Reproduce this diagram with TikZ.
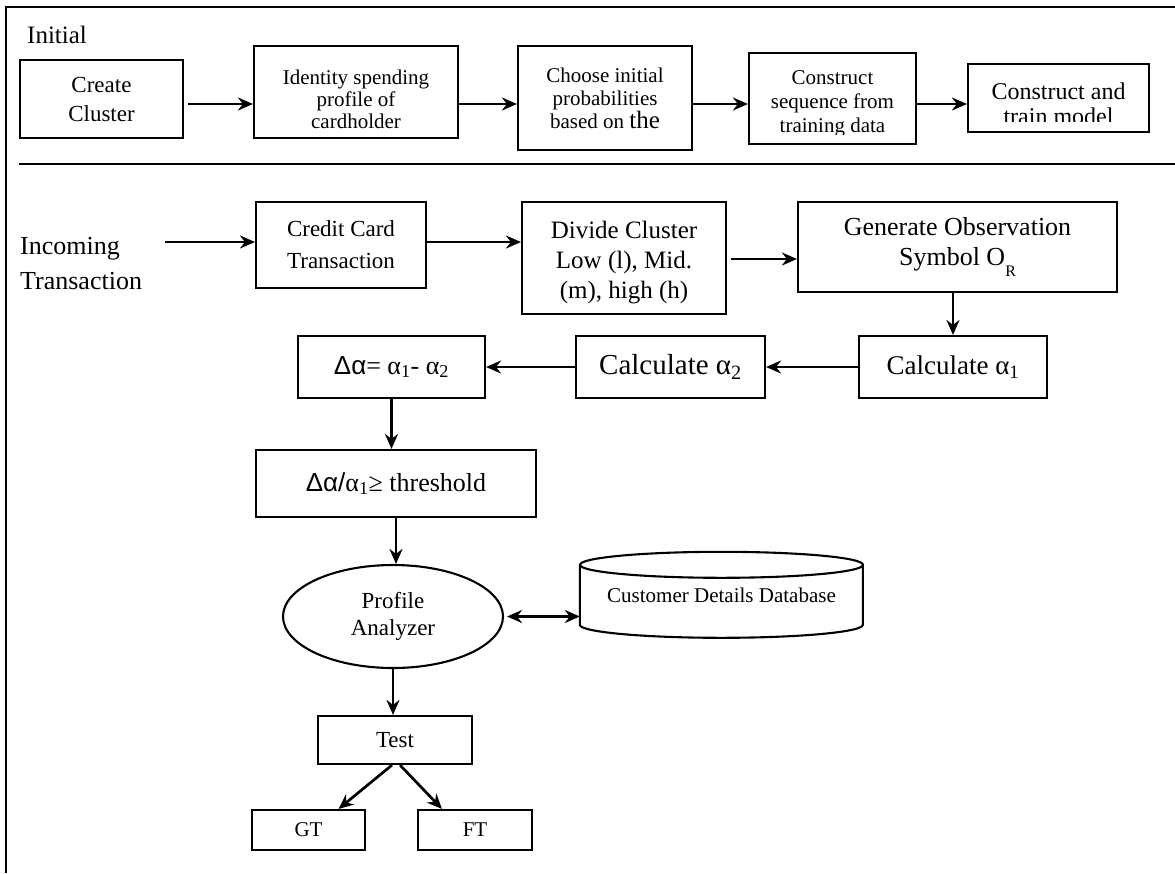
\documentclass[tikz,border=0pt]{standalone}
\usepackage{fontspec}
\setmainfont{Liberation Serif}
\newfontfamily\sansf{Liberation Sans}
\usetikzlibrary{arrows.meta,shapes.geometric,calc}
\newcommand\fsz[2]{\fontsize{#1}{#2}\selectfont}
\begin{document}
\begin{tikzpicture}[x=1pt,y=-1pt,
  box/.style={draw, line width=2.1pt, inner sep=0pt, align=center},
  arr/.style={line width=2.7pt, -{Stealth[length=15pt,width=13pt,inset=5pt]}},
  darr/.style={line width=2.7pt, {Stealth[length=15pt,width=13pt,inset=5pt]}-{Stealth[length=15pt,width=13pt,inset=5pt]}},
  frame/.style={line width=2.4pt},
  txt/.style={inner sep=0pt, align=center}]
\useasboundingbox (0,0) rectangle (1175,873);
\fill[white] (0,0) rectangle (1175,873);

% frame
\coordinate (ftl) at (6,7);
\coordinate (ftr) at (1175,7);
\coordinate (fbl) at (6,873);
\coordinate (dl) at (19,164);
\coordinate (dr) at (1175,164);
\draw[frame] (ftr) -- (ftl) -- (fbl);
\draw[frame] (dl) -- (dr);

% ---------- Initial row ----------
\node[txt, anchor=base west, font=\fsz{25}{29}] (initial) at (27,43) {Initial};

\node[box, minimum width=163, minimum height=78, font=\fsz{23}{29}] (create) at (101.5,99) {Create\\Cluster};
\node[box, minimum width=204, minimum height=92] (ident) at (356,92) {};
\node[txt, font=\fsz{21}{22}] (identtxt) at (356,99) {Identity spending\\profile of\\cardholder};
\node[box, minimum width=174, minimum height=104, font=\fsz{21}{23}] (choose) at (605,98) {Choose initial\\probabilities\\based on {\fsz{25}{23}the}};
\node[box, minimum width=167, minimum height=91] (seq) at (832.5,98.5) {};
\node[box, minimum width=181, minimum height=68] (train) at (1058.5,98) {};
\begin{scope}
  \clip (seq.north west) rectangle ([yshift=11pt]seq.south east);
  \node[txt, font=\fsz{21}{24}] (seqtxt) at (832.5,104) {Construct\\sequence from\\training data};
\end{scope}
\begin{scope}
  \clip (train.north west) rectangle ([yshift=12pt]train.south east);
  \node[txt, font=\fsz{24}{25}] (traintxt) at (1058.5,104) {Construct and\\train model};
\end{scope}

\coordinate (r1) at (0,104);
\draw[arr] ([xshift=4pt]create.east |- r1) -- (ident.west |- r1);
\draw[arr] (ident.east |- r1) -- (choose.west |- r1);
\draw[arr] (choose.east |- r1) -- (seq.west |- r1);
\draw[arr] (seq.east |- r1) -- (train.west |- r1);

% ---------- Transaction part ----------
\node[txt, align=left, anchor=west, font=\fsz{26}{35}] (inc) at (20,264) {Incoming\\Transaction};
\node[box, minimum width=170, minimum height=86, font=\fsz{23}{32}] (credit) at (341,245) {Credit Card\\Transaction};
\node[box, minimum width=204, minimum height=112] (divide) at (624,258) {};
\node[txt, font=\fsz{25}{30}] (dividetxt) at (624,263) {Divide Cluster\\Low (l), Mid.\\(m), high (h)};
\node[box, minimum width=319, minimum height=90, font=\fsz{26}{30}] (gen) at (957.5,247) {Generate Observation\\Symbol O\raisebox{-11pt}{\fsz{16}{16}R}};
\node[box, minimum width=188, minimum height=62, font=\fsz{27}{30}] (calc1) at (953,367) {Calculate α\textsubscript{1}};
\node[box, minimum width=189, minimum height=62, font=\fsz{29}{30}] (calc2) at (670.5,367) {Calculate α\textsubscript{2}};
\node[box, minimum width=187, minimum height=62, font=\fsz{26}{30}] (delta) at (391.5,367) {{\sansf Δα}= α\textsubscript{1}- α\textsubscript{2}};
\node[box, minimum width=280, minimum height=67, font=\fsz{26}{30}] (thr) at (396,483.5) {{\sansf Δα/}α\textsubscript{1}≥ threshold};
\node[draw, ellipse, line width=2.1pt, inner sep=0pt, minimum width=220, minimum height=103, align=center, font=\fsz{23}{27}] (pa) at (393,616.5) {Profile\\Analyzer};
\node[txt, minimum width=283, minimum height=86, font=\fsz{21}{24}] (db) at (721.5,595) {Customer Details Database};
\draw[line width=2.1pt] (db.north west) ++(0,13) -- ++(0,60) arc[start angle=180,end angle=360,x radius=141.5pt,y radius=13pt] -- ++(0,-60);
\draw[line width=2.1pt] ($(db.north)+(0,13)$) ellipse [x radius=141.5pt, y radius=13pt];
\node[box, minimum width=154, minimum height=48, font=\fsz{23}{26}] (test) at (395,740) {Test};
\node[box, minimum width=113, minimum height=40, font=\fsz{21}{24}] (gt) at (308.5,830) {GT};
\node[box, minimum width=114, minimum height=40, font=\fsz{21}{24}] (ft) at (475,830) {FT};

\coordinate (r2) at (0,242);
\coordinate (r3) at (0,259);
\coordinate (incend) at ([xshift=23pt]inc.east);
\draw[arr] (incend |- r2) -- (credit.west |- r2);
\draw[arr] (credit.east |- r2) -- (divide.west |- r2);
\draw[arr] ([xshift=4pt]divide.east |- r3) -- (gen.west |- r3);
\draw[arr] (calc1.north |- gen.south) -- (calc1.north);
\draw[arr] (calc1.west) -- (calc2.east);
\draw[arr] (calc2.west) -- (delta.east);
\draw[arr] (delta.south) -- (delta.south |- thr.north);
\draw[arr] (thr.south) -- (thr.south |- pa.north);
\draw[darr] ([xshift=3pt]pa.east) -- (pa.east -| db.west);
\draw[arr] (pa.south) -- (pa.south |- test.north);
\draw[arr] ([xshift=-3pt]test.south) -- ([xshift=30pt]gt.north);
\draw[arr] ([xshift=5pt]test.south) -- ([xshift=-33pt]ft.north);
\end{tikzpicture}
\end{document}
